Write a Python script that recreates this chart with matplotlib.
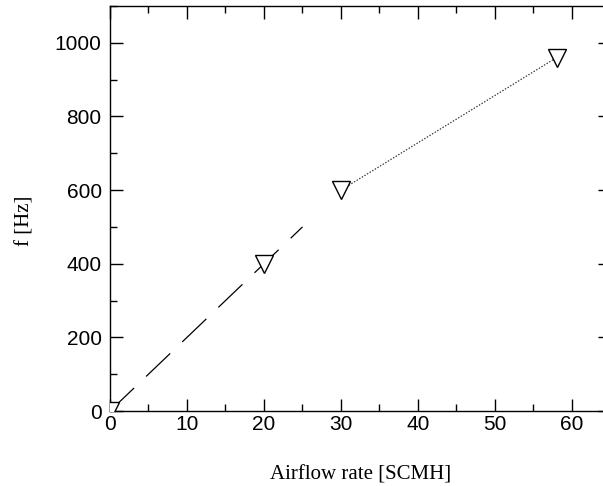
import matplotlib
matplotlib.use('Agg')
import matplotlib.pyplot as plt
from matplotlib.ticker import MultipleLocator

# measured points
airflow = [0, 20, 30, 58]
freq = [0, 400, 600, 960]

# fitted lines
fit1_x = [0, 25]
fit1_y = [0, 500]
fit2_x = [30, 58]
fit2_y = [600, 960]

plt.rcParams['lines.scale_dashes'] = False

fig = plt.figure(figsize=(6.03, 4.86), dpi=100)
ax = fig.add_axes([0.1824, 0.1543, 0.830, 0.8333])

ax.plot(fit1_x, fit1_y, color='black', lw=0.9, dashes=(24, 12), dash_capstyle='butt')
ax.plot(fit2_x, fit2_y, color='#333333', lw=0.9, dashes=(1, 1.2))
ax.plot(airflow, freq, linestyle='none', marker='v', markersize=13,
        markerfacecolor='white', markeredgecolor='black', markeredgewidth=1.0,
        clip_on=True, zorder=3)

ax.set_xlim(0, 65)
ax.set_ylim(0, 1100)
ax.xaxis.set_major_locator(MultipleLocator(10))
ax.xaxis.set_minor_locator(MultipleLocator(5))
ax.yaxis.set_major_locator(MultipleLocator(200))
ax.yaxis.set_minor_locator(MultipleLocator(100))

ax.tick_params(which='both', direction='in', top=True, right=True, width=1.0,
               labelsize=15, labelfontfamily='Liberation Sans')
ax.tick_params(which='major', length=9)
ax.tick_params(which='minor', length=5)
ax.tick_params(axis='x', pad=3)
ax.tick_params(axis='y', pad=6)
for s in ax.spines.values():
    s.set_linewidth(1.0)

ax.set_xlabel('Airflow rate [SCMH]', fontsize=15, family='Liberation Serif')
ax.set_ylabel('f [Hz]', fontsize=15, family='Liberation Serif')
ax.xaxis.set_label_coords(0.5, -0.135)
ax.yaxis.set_label_coords(-0.15, 0.47)

fig.savefig('out.png', dpi=100, facecolor='white')
